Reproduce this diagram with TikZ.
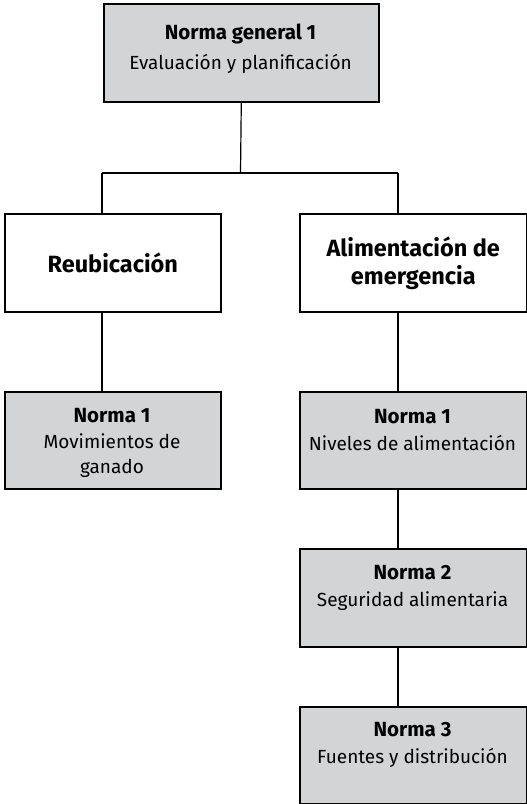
\documentclass[tikz,border=0pt]{standalone}
\usepackage{fontspec}
\setmainfont{Fira Sans}
\definecolor{boxgray}{RGB}{211,212,214}
\newcommand{\normtitle}[1]{{\bfseries\fontsize{20.5}{28}\selectfont #1}}
\begin{document}
\begin{tikzpicture}
        [x=1pt, y=-1pt,
        box/.style={draw, line width=1.6pt, inner sep=0pt, anchor=north west},
        normbox/.style={box, fill=boxgray},
        plainbox/.style={box, fill=white},
        txt/.style={align=center, inner sep=0pt, font=\fontsize{19}{27.5}\selectfont},
        head/.style={align=center, inner sep=0pt, font=\bfseries\fontsize{23.5}{28}\selectfont},
        link/.style={line width=1.2pt, black}]

        \useasboundingbox (0,0) rectangle (527,804);

        % boxes, placed by their top left corner
        \node[normbox, minimum width=275pt, minimum height=98pt] (gen) at (103,3) {};
        \node[plainbox, minimum width=216pt, minimum height=98pt] (reub) at (4,213) {};
        \node[plainbox, minimum width=227pt, minimum height=98pt] (alim) at (299,213) {};
        \node[normbox, minimum width=216pt, minimum height=97pt] (mov) at (4,391) {};
        \node[normbox, minimum width=227pt, minimum height=97pt] (niv) at (299,391) {};
        \node[normbox, minimum width=227pt, minimum height=98pt] (seg) at (299,548) {};
        \node[normbox, minimum width=227pt, minimum height=97pt] (fue) at (299,706) {};

        % texts
        \node[txt, font=\fontsize{19}{30}\selectfont] (gentxt) at (240.5,49) {\normtitle{Norma general 1}\\Evaluación y planificación};
        \node[head] (reubtxt) at (reub.center) {Reubicación};
        \node[head] (alimtxt) at (alim.center) {Alimentación de\\emergencia};
        \node[txt, font=\fontsize{19}{25.5}\selectfont] (movtxt) at (112,443) {\normtitle{Norma 1}\\Movimientos de\\ganado};
        \node[txt] (nivtxt) at (412.5,430) {\normtitle{Norma 1}\\Niveles de alimentación};
        \node[txt] (segtxt) at (412.5,588) {\normtitle{Norma 2}\\Seguridad alimentaria};
        \node[txt] (fuetxt) at (412.5,745) {\normtitle{Norma 3}\\Fuentes y distribución};

        % the fork under the top box
        \coordinate (fork) at (240.5,173);
        \coordinate (forkL) at (102,173);
        \coordinate (forkR) at (398,173);

        \draw[link] (gen.south) -- (fork);
        \draw[link] (forkL) -- (forkR);
        \draw[link] (forkL) -- (forkL |- reub.north);
        \draw[link] (forkR) -- (forkR |- alim.north);

        % columns
        \draw[link] (reub.south -| forkL) -- (mov.north -| forkL);
        \draw[link] (alim.south -| forkR) -- (niv.north -| forkR);
        \draw[link] (niv.south -| forkR) -- (seg.north -| forkR);
        \draw[link] (seg.south -| forkR) -- (fue.north -| forkR);
    \end{tikzpicture}
\end{document}
